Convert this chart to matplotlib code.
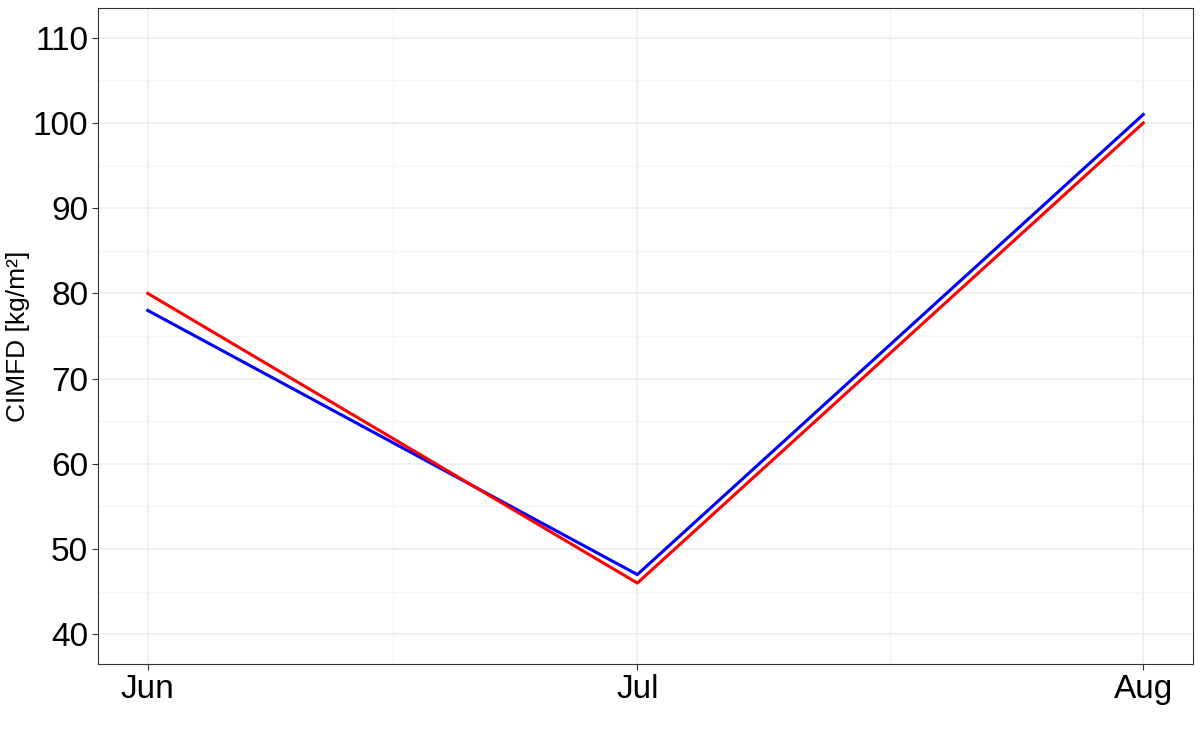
import matplotlib

matplotlib.use("Agg")
import matplotlib.pyplot as plt
import matplotlib.dates as mdates
import numpy as np

plt.rcParams["font.family"] = ["Liberation Sans", "DejaVu Sans"]

DATES = np.array(["2020-06-01", "2020-07-01", "2020-08-01"], dtype="datetime64[D]")
MONTH_LABELS = ["Jun", "Jul", "Aug"]
BLUE_VALUES = [78, 47, 101]
RED_VALUES = [80, 46, 100]
Y_TICKS = [40, 50, 60, 70, 80, 90, 100, 110]

fig = plt.figure(figsize=(12, 7.36), dpi=100, facecolor="white")
ax = fig.add_axes([98 / 1200, 72 / 736, 1095 / 1200, 656 / 736])

ax.plot(DATES, BLUE_VALUES, color="#0000FF", lw=2.2, zorder=3)
ax.plot(DATES, RED_VALUES, color="#FF0000", lw=2.2, zorder=3)

# ggplot-style 5% expansion around the limits
x0 = mdates.date2num(DATES[0])
x1 = mdates.date2num(DATES[-1])
pad = (x1 - x0) * 0.05
ax.set_xlim(x0 - pad, x1 + pad)
ax.set_ylim(40 - 3.5, 110 + 3.5)

ax.set_xticks(mdates.date2num(DATES))
ax.set_xticklabels(MONTH_LABELS)
mids = [(mdates.date2num(DATES[i]) + mdates.date2num(DATES[i + 1])) / 2 for i in range(len(DATES) - 1)]
ax.set_xticks(mids, minor=True)
ax.set_yticks(Y_TICKS)
ax.set_yticks([(Y_TICKS[i] + Y_TICKS[i + 1]) / 2 for i in range(len(Y_TICKS) - 1)], minor=True)

ax.grid(which="major", color="#EBEBEB", lw=1.1)
ax.grid(which="minor", color="#F4F4F4", lw=0.8)
ax.set_axisbelow(True)

ax.tick_params(which="major", length=4, width=0.8, color="#333333", labelsize=24, labelcolor="black", pad=3)
ax.tick_params(which="minor", length=0)
for s in ax.spines.values():
    s.set_color("#333333")
    s.set_linewidth(0.8)

ax.set_ylabel("CIMFD [kg/m²]", fontsize=19)
ax.yaxis.set_label_coords(-68 / 1095, 0.5)

fig.savefig("out.png", dpi=100, facecolor="white")
